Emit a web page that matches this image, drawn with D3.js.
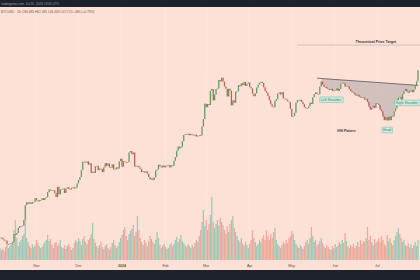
<!DOCTYPE html>
<meta charset="utf-8">
<script src="https://d3js.org/d3.v7.min.js"></script>
<style>
  body { margin: 0; background: #1e222d; }
  svg { display: block; font-family: "Liberation Sans", Arial, sans-serif; }
</style>
<body>
<div id="chart"></div>
<script>
// daily closes (k USD), Oct 6 2023 onwards
var closes = [
  27.9, 27.9, 27.6, 27.4, 27.4, 26.8, 26.8, 26.9, 27.0, 27.2,
  28.5, 28.4, 28.7, 29.6, 29.9, 29.9, 30.0, 31.0, 33.9, 34.5,
  34.2, 34.5, 34.2, 34.6, 34.6, 35.4, 34.9, 34.7, 35.0, 35.0,
  35.4, 35.0, 35.4, 35.6, 36.7, 37.3, 37.1, 37.0, 37.1, 36.5,
  35.6, 37.9, 36.2, 37.3, 37.4, 37.5, 36.5, 37.5, 37.8, 37.4,
  37.3, 37.7, 37.8, 37.5, 37.7, 38.7, 39.5, 40.2, 41.9, 44.1,
  44.0, 43.8, 44.2, 43.3, 43.7, 41.2, 41.5, 41.2, 42.9, 43.0,
  41.9, 42.3, 42.2, 41.4, 42.6, 43.7, 43.0, 43.6, 42.6, 42.5,
  43.4, 42.1, 42.1, 42.6, 42.3, 44.2, 44.9, 42.8, 44.2, 44.0,
  43.9, 44.0, 46.6, 47.0, 46.1, 46.6, 42.8, 43.0, 43.0, 42.6,
  42.2, 41.4, 41.6, 41.3, 41.6, 41.0, 40.2, 39.6, 39.9, 39.5,
  40.1, 41.8, 42.1, 43.3, 42.9, 42.6, 43.1, 42.6, 43.0, 43.1,
  43.2, 42.6, 43.1, 43.0, 44.3, 45.3, 47.1, 48.3, 47.8, 48.2,
  49.9, 51.8, 52.0, 51.9, 52.2, 51.7, 52.1, 51.8, 51.6, 51.9,
  51.3, 51.6, 51.7, 51.6, 54.5, 57.0, 62.5, 61.2, 62.4, 62.0,
  67.5, 68.3, 63.8, 66.1, 68.3, 68.5, 72.1, 71.5, 73.1, 71.4,
  69.4, 68.4, 65.3, 68.4, 67.6, 61.9, 63.8, 62.9, 67.2, 67.3,
  69.9, 69.4, 70.7, 69.9, 71.3, 69.6, 70.5, 71.0, 69.1, 68.5,
  66.4, 65.4, 66.5, 68.9, 70.1, 70.9, 71.3, 70.8, 69.0, 67.5,
  66.8, 65.4, 63.8, 62.3, 61.4, 61.2, 63.5, 64.3, 66.4, 66.9,
  66.1, 67.0, 64.5, 64.4, 64.1, 63.4, 63.1, 60.6, 57.8, 58.0,
  59.2, 62.9, 63.8, 63.5, 64.0, 63.2, 62.3, 61.2, 60.8, 60.9,
  61.5, 62.9, 62.4, 65.0, 66.2, 66.9, 66.3, 66.2, 69.3, 71.4,
  70.1, 69.2, 69.2, 68.5, 68.3, 67.9, 68.4, 67.5, 67.6, 67.8,
  68.6, 67.5, 68.3, 70.5, 71.0, 70.7, 69.3, 69.6, 69.4, 68.2,
  67.5, 67.0, 66.8, 66.0, 65.6, 66.0, 65.2, 65.0, 64.9, 64.8,
  64.1, 64.3, 63.2, 61.5, 60.3, 61.0, 61.8, 60.9, 62.7, 62.5,
  62.0, 60.3, 59.7, 57.9, 56.6, 57.6, 56.5, 57.8, 56.6, 58.0,
  57.9, 59.7, 60.7, 62.9, 64.8, 65.1, 64.1, 66.2, 67.5, 68.3,
  67.2, 66.8, 67.6, 67.8, 67.0, 68.2, 69.8, 71.5, 76.5
];

// daily volume (relative units)
var volumes = [
  12, 10, 11, 9, 13, 15, 12, 14, 16, 18,
  30, 40, 22, 14, 18, 20, 24, 26, 40, 22,
  18, 14, 12, 16, 13, 15, 20, 17, 14, 12,
  13, 16, 18, 20, 25, 19, 21, 15, 12, 17,
  18, 14, 16, 20, 13, 12, 15, 11, 14, 16,
  13, 10, 12, 17, 20, 18, 22, 19, 15, 21,
  24, 18, 16, 20, 22, 26, 37, 21, 17, 14,
  12, 15, 18, 13, 11, 14, 16, 12, 10, 13,
  17, 20, 15, 12, 14, 18, 22, 25, 30, 33,
  24, 20, 26, 29, 31, 35, 24, 28, 44, 30,
  22, 18, 15, 20, 17, 14, 19, 24, 21, 18,
  16, 20, 28, 22, 15, 12, 14, 16, 13, 11,
  12, 15, 17, 14, 16, 20, 23, 18, 21, 25,
  19, 17, 15, 13, 16, 14, 12, 15, 13, 17,
  20, 18, 24, 30, 38, 50, 34, 40, 30, 36,
  45, 63, 38, 32, 36, 40, 34, 42, 38, 35,
  30, 26, 34, 28, 36, 40, 44, 32, 28, 24,
  20, 18, 22, 16, 14, 18, 15, 12, 16, 20,
  30, 22, 18, 14, 16, 20, 18, 22, 25, 20,
  30, 24, 20, 26, 22, 28, 32, 20, 16, 14,
  12, 15, 18, 16, 20, 17, 22, 24, 29, 26,
  20, 16, 14, 12, 15, 13, 11, 14, 18, 20,
  16, 22, 33, 24, 18, 20, 14, 16, 19, 22,
  17, 14, 12, 15, 13, 11, 10, 14, 12, 16,
  13, 15, 18, 16, 20, 17, 27, 19, 14, 12,
  15, 13, 16, 12, 14, 18, 13, 20, 16, 19,
  18, 22, 33, 20, 24, 18, 15, 21, 17, 19,
  22, 18, 24, 20, 16, 14, 25, 19, 22, 17,
  15, 20, 24, 28, 32, 26, 22, 18, 20, 15,
  14, 17, 13, 16, 12, 15, 18, 14, 20
];

var monthTicks = ["2023-11-01", "2023-12-01", "2024-01-01", "2024-02-01", "2024-03-01",
                  "2024-04-01", "2024-05-01", "2024-06-01", "2024-07-01"];
var monthLabels = ["Nov", "Dec", "2024", "Feb", "Mar", "Apr", "May", "Jun", "Jul"];

// inverse head & shoulders: neckline [dayIndex, price]
var neckline = [[226, 72.9], [298, 69.8]];
var targetPrice = 89;
var patternRange = [229, 295];
var labels = [
  {text: "Left Shoulder", i: 236, p: 64.1, boxed: true},
  {text: "Right Shoulder", i: 290, p: 62.9, boxed: true},
  {text: "Head", i: 276, p: 53.4, boxed: true},
  {text: "IHS Pattern", i: 247, p: 53.2, boxed: false}
];

var W = 420, H = 280;
var start = new Date(2023, 9, 6);
var parse = d3.timeParse("%Y-%m-%d");
function dayDate(i) { return d3.timeDay.offset(start, i); }

var data = closes.map(function(c, i) {
  return { date: dayDate(i), open: i ? closes[i - 1] : c, close: c, vol: volumes[i] };
});

var x = d3.scaleTime()
  .domain([start, dayDate(298)])
  .range([0, 418]);
var y = d3.scaleLog()
  .domain([20, 100])
  .range([292.9, 25.7]);
var yv = d3.scaleLinear()
  .domain([0, 70])
  .range([260, 190]);

var svg = d3.select("#chart").append("svg")
  .attr("width", W).attr("height", H);

// background
svg.append("rect").attr("width", W).attr("height", H).attr("fill", "#fde1d7");
svg.append("rect").attr("width", W).attr("height", 7).attr("fill", "#1e222d");
svg.append("rect").attr("y", 270).attr("width", W).attr("height", 10).attr("fill", "#1e222d");

// grid
svg.append("g").selectAll("line")
  .data(monthTicks)
  .join("line")
    .attr("x1", function(d) { return x(parse(d)); })
    .attr("x2", function(d) { return x(parse(d)); })
    .attr("y1", 7).attr("y2", 261)
    .attr("stroke", "#fff").attr("stroke-opacity", 0.35).attr("stroke-width", 0.6);

// header texts
svg.append("text").attr("x", 1).attr("y", 5)
  .style("font-size", "3.2px").attr("fill", "#9aa0ab")
  .text("tradingview.com, Jul 20, 2024 13:05 UTC");
svg.append("text").attr("x", 1).attr("y", 13)
  .style("font-size", "3.2px").attr("fill", "#6b5a55")
  .text("BTCUSD · 1D  O66,685 H67,485 L66,463 C67,170 +485 (+0.73%)");

// volume
var bw = x(dayDate(1)) - x(dayDate(0));
svg.append("g").selectAll("rect")
  .data(data)
  .join("rect")
    .attr("x", function(d) { return x(d.date) - bw * 0.45; })
    .attr("width", bw * 0.9)
    .attr("y", function(d) { return yv(d.vol); })
    .attr("height", function(d) { return yv(0) - yv(d.vol); })
    .attr("fill", function(d) { return d.close >= d.open ? "#86c2ad" : "#eb9a8a"; })
    .attr("opacity", 0.8);

// pattern shading
var pts = [[dayDate(patternRange[0]), closes[patternRange[0]]]];
for (var i = patternRange[0]; i <= patternRange[1]; i++) pts.push([dayDate(i), closes[i]]);
var necky = d3.scaleLinear().domain([neckline[0][0], neckline[1][0]]).range([neckline[0][1], neckline[1][1]]);
pts.push([dayDate(patternRange[1]), necky(patternRange[1])]);
pts.push([dayDate(patternRange[0]), necky(patternRange[0])]);
svg.append("path")
  .attr("d", d3.line().x(function(d) { return x(d[0]); }).y(function(d) { return y(d[1]); })(pts) + "Z")
  .attr("fill", "#9c9a98").attr("fill-opacity", 0.45);

// candles
svg.append("g").selectAll("rect")
  .data(data)
  .join("rect")
    .attr("x", function(d) { return x(d.date) - bw * 0.45; })
    .attr("width", bw * 0.9)
    .attr("y", function(d) { return y(Math.max(d.open, d.close)); })
    .attr("height", function(d) { return Math.max(0.7, Math.abs(y(d.open) - y(d.close))); })
    .attr("fill", function(d) { return d.close >= d.open ? "#5c9a66" : "#b9604e"; });

// neckline
svg.append("line")
  .attr("x1", x(dayDate(neckline[0][0]))).attr("y1", y(neckline[0][1]))
  .attr("x2", x(dayDate(neckline[1][0]))).attr("y2", y(neckline[1][1]))
  .attr("stroke", "#4a4545").attr("stroke-width", 0.7);

// price target
svg.append("line")
  .attr("x1", x(dayDate(212))).attr("x2", W)
  .attr("y1", y(targetPrice)).attr("y2", y(targetPrice))
  .attr("stroke", "#b8aaa4").attr("stroke-width", 0.6);
svg.append("text")
  .attr("x", x(dayDate(268))).attr("y", y(targetPrice) - 2)
  .attr("text-anchor", "middle")
  .style("font-size", "3.6px").style("font-weight", "bold").attr("fill", "#3a3333")
  .text("Theoretical Price Target");

// labels
labels.forEach(function(l) {
  var g = svg.append("g").attr("transform", "translate(" + x(dayDate(l.i)) + "," + y(l.p) + ")");
  var t = g.append("text").attr("text-anchor", "middle").attr("dy", "0.35em")
    .style("font-size", "3.4px")
    .attr("fill", l.boxed ? "#2f8f72" : "#3a3333")
    .style("font-weight", l.boxed ? "normal" : "bold")
    .text(l.text);
  if (l.boxed) {
    var b = t.node().getBBox();
    g.insert("rect", "text")
      .attr("x", b.x - 1.2).attr("y", b.y - 0.8)
      .attr("width", b.width + 2.4).attr("height", b.height + 1.6)
      .attr("rx", 0.8)
      .attr("fill", "#cfeadf").attr("stroke", "#55b494").attr("stroke-width", 0.4);
  }
});

// x axis labels
svg.append("g").selectAll("text")
  .data(monthTicks)
  .join("text")
    .attr("x", function(d) { return x(parse(d)); })
    .attr("y", 266.5)
    .attr("text-anchor", "middle")
    .style("font-size", "3.6px")
    .style("font-weight", function(d, i) { return monthLabels[i] === "2024" ? "bold" : "normal"; })
    .attr("fill", "#5a4c48")
    .text(function(d, i) { return monthLabels[i]; });
</script>
</body>
